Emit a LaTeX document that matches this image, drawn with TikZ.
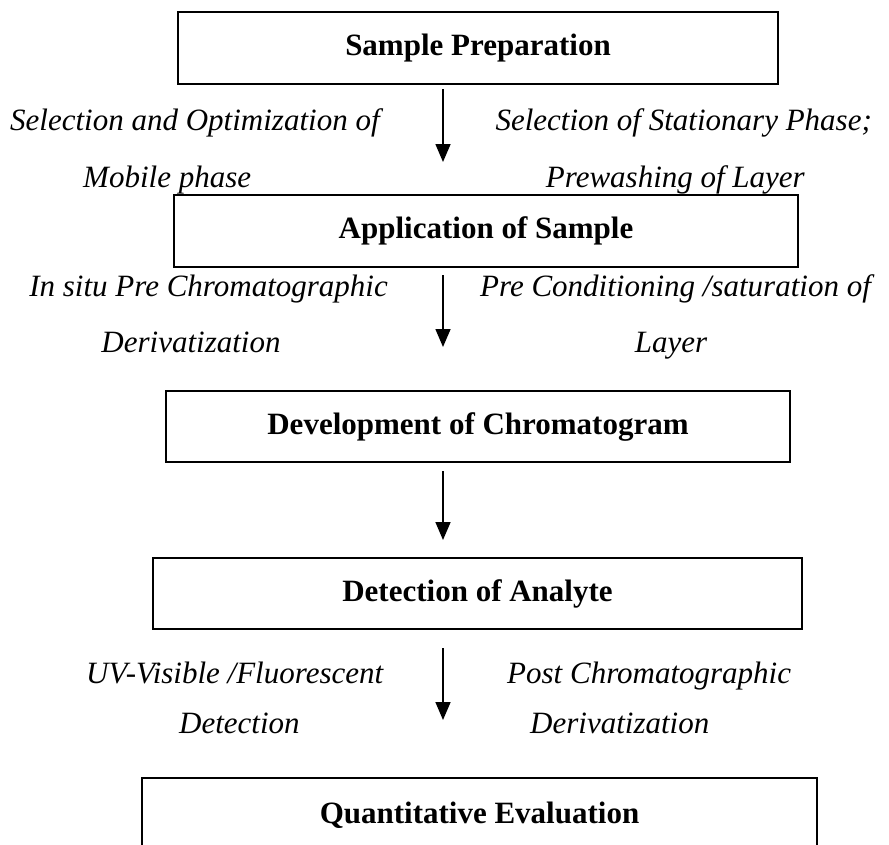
\documentclass[tikz,border=0pt]{standalone}
\usepackage{fontspec}
\setmainfont{Liberation Serif}
\usetikzlibrary{arrows.meta}
\begin{document}
\begin{tikzpicture}[x=1pt,y=-1pt,
  stepbox/.style={draw=black,line width=1.8pt,rectangle,inner sep=0pt,
    font=\fontsize{31}{36}\selectfont\bfseries},
  sidetext/.style={inner sep=0pt,font=\fontsize{31}{36}\selectfont\itshape},
  flow/.style={line width=1.6pt,-{Triangle[width=15pt,length=18pt]}}]
\clip (0,0) rectangle (889,844);
\fill[white] (0,0) rectangle (889,844);
% boxes
\node[stepbox,minimum width=600pt,minimum height=72pt] (b1) at (478,48) {Sample Preparation};
\node[stepbox,minimum width=624pt,minimum height=72pt] (b2) at (486,231) {Application of Sample};
\node[stepbox,minimum width=624pt,minimum height=71pt] (b3) at (478,426.5) {Development of Chromatogram};
\node[stepbox,minimum width=649pt,minimum height=71pt] (b4) at (477.5,593.5) {Detection of Analyte};
\node[stepbox,minimum width=675pt,minimum height=80pt,text depth=0pt] (b5) at (479.5,818) {\raisebox{10pt}{Quantitative Evaluation}};
% side texts
\node[sidetext,anchor=base west] (t1) at (10,130) {Selection and Optimization of};
\node[sidetext,anchor=base east] (t2) at (872,130) {Selection of Stationary Phase;};
\node[sidetext,anchor=base west] (t3) at (83,187) {Mobile phase};
\node[sidetext,anchor=base east] (t4) at (805,187) {Prewashing of Layer};
\node[sidetext,anchor=base east] (t5) at (388,296) {In situ Pre Chromatographic};
\node[sidetext,anchor=base west] (t6) at (480,296) {Pre Conditioning /saturation of};
\node[sidetext,anchor=base] (t7) at (191,352) {Derivatization};
\node[sidetext,anchor=base] (t8) at (671,352) {Layer};
\node[sidetext,anchor=base west] (t9) at (86,683) {UV-Visible /Fluorescent};
\node[sidetext,anchor=base west] (t10) at (507,683) {Post Chromatographic};
\node[sidetext,anchor=base west] (t11) at (179,733) {Detection};
\node[sidetext,anchor=base west] (t12) at (530,733) {Derivatization};
% arrows
\coordinate (a1s) at (443,89);  \coordinate (a1e) at (443,162);
\coordinate (a2s) at (443,275); \coordinate (a2e) at (443,347);
\coordinate (a3s) at (443,471); \coordinate (a3e) at (443,540);
\coordinate (a4s) at (443,648); \coordinate (a4e) at (443,720);
\draw[flow] (a1s) -- (a1e);
\draw[flow] (a2s) -- (a2e);
\draw[flow] (a3s) -- (a3e);
\draw[flow] (a4s) -- (a4e);
\end{tikzpicture}
\end{document}
